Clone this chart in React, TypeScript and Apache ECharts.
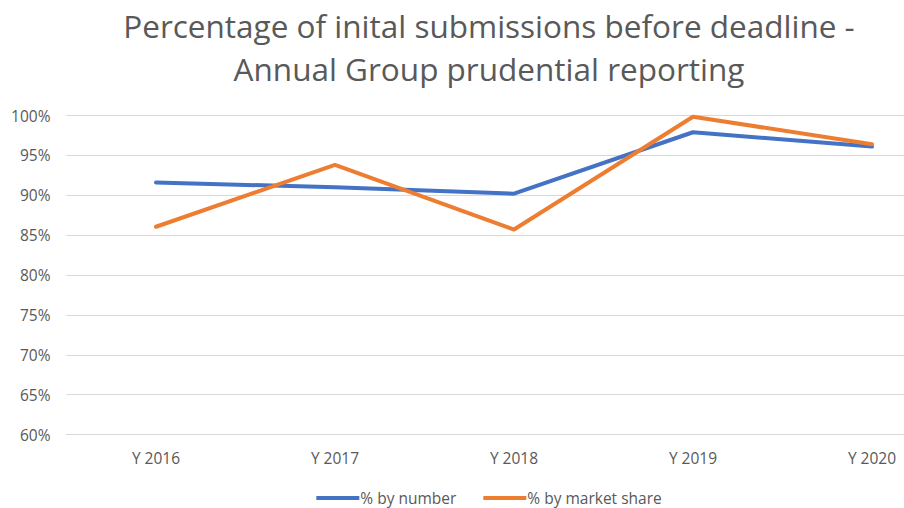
import React, { useEffect, useRef } from "react";
import * as echarts from "echarts";

const categories = ["Y 2016", "Y 2017", "Y 2018", "Y 2019", "Y 2020"];
const byNumber = [91.6, 91.0, 90.2, 97.9, 96.1];
const byMarketShare = [86.05, 93.8, 85.7, 99.85, 96.4];
const seriesNames = ["% by number", "% by market share"];
const titleLines = [
  "Percentage of inital submissions before deadline -",
  "Annual Group prudential reporting",
];

const FONT = "'Open Sans', 'Noto Sans', sans-serif";

export default function App() {
  const ref = useRef<HTMLDivElement>(null);
  useEffect(() => {
    if (!ref.current) return;
    const chart = echarts.init(ref.current, undefined, { renderer: "svg" });
    chart.setOption({
      animation: false,
      backgroundColor: "#ffffff",
      title: {
        text: titleLines.join("\n"),
        left: "center",
        top: -1,
        textStyle: {
          fontFamily: FONT,
          fontSize: 31.5,
          fontWeight: "normal",
          color: "#595959",
          lineHeight: 43,
        },
      },
      legend: {
        bottom: 0,
        left: "center",
        padding: [0, 5, 0, 5],
        itemWidth: 43,
        itemHeight: 4,
        itemGap: 27,
        icon: "rect",
        textStyle: {
          fontFamily: FONT,
          fontSize: 15.5,
          color: "#595959",
          padding: [0, 0, 0, -4],
          lineHeight: 20,
        },
        data: seriesNames,
      },
      grid: { left: 66.5, right: 16.5, top: 115.5, bottom: 73.5, containLabel: false },
      xAxis: {
        type: "category",
        data: categories,
        boundaryGap: true,
        axisLine: { show: true, lineStyle: { color: "#D9D9D9", width: 1 } },
        axisTick: { show: false },
        axisLabel: { fontFamily: FONT, fontSize: 15.5, color: "#595959", margin: 15 },
      },
      yAxis: {
        type: "value",
        min: 60,
        max: 100,
        interval: 5,
        axisLine: { show: false },
        axisTick: { show: false },
        splitLine: { lineStyle: { color: "#D9D9D9", width: 1 } },
        axisLabel: {
          fontFamily: FONT,
          fontSize: 15.5,
          color: "#595959",
          margin: 16,
          formatter: (v: number) => v + "%",
        },
      },
      series: [
        {
          name: seriesNames[0],
          type: "line",
          data: byNumber,
          symbol: "none",
          lineStyle: { color: "#4472C4", width: 4, cap: "round", join: "round" },
          itemStyle: { color: "#4472C4" },
        },
        {
          name: seriesNames[1],
          type: "line",
          data: byMarketShare,
          symbol: "none",
          lineStyle: { color: "#ED7D31", width: 4, cap: "round", join: "round" },
          itemStyle: { color: "#ED7D31" },
        },
      ],
    });
    return () => chart.dispose();
  }, []);
  return (
    <div
      style={{
        position: "fixed",
        left: 0,
        top: 0,
        width: 904,
        height: 508,
        overflow: "hidden",
        background: "#fff",
      }}
    >
      <div ref={ref} style={{ width: 978, height: 508 }} />
    </div>
  );
}
